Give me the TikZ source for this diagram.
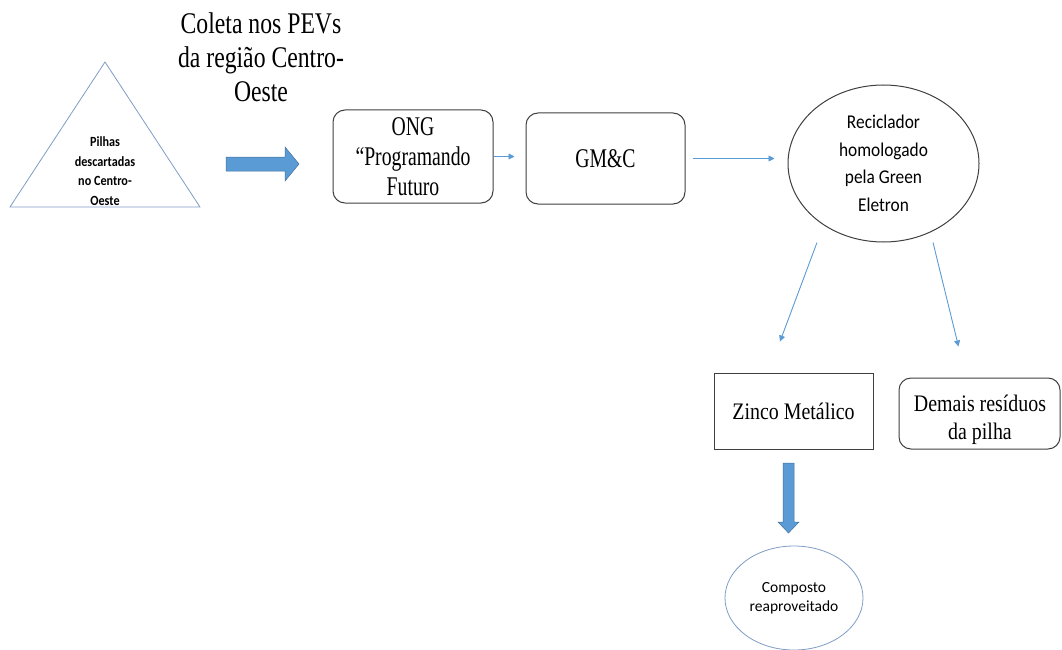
\documentclass[tikz,border=0pt]{standalone}
\usepackage{fontspec}
\setmainfont{Liberation Serif}
\newfontfamily\titlefont[FakeStretch=0.79]{Liberation Serif}
\newfontfamily\boxfont[FakeStretch=0.73]{Liberation Serif}
\newfontfamily\lowfont[FakeStretch=0.84]{Liberation Serif}
\newfontfamily\calA[FakeStretch=0.87]{Carlito}
\newfontfamily\calB[FakeStretch=0.89]{Carlito}
\newfontfamily\calC{Carlito}
\usetikzlibrary{arrows.meta,shapes.geometric,calc}
\definecolor{flowblue}{HTML}{5B9BD5}
\definecolor{flowedge}{HTML}{41719C}
\definecolor{softblue}{HTML}{7F9CC4}
\definecolor{boxline}{HTML}{3F3F3F}
\begin{document}
\begin{tikzpicture}[x=1pt,y=-1pt,
  rbox/.style={draw=boxline, line width=1pt, rounded corners=12pt, inner sep=0pt, align=center},
  sbox/.style={draw=boxline, line width=1pt, inner sep=0pt, align=center},
  oval/.style={ellipse, inner sep=0pt, align=center},
  link/.style={draw=flowblue, line width=0.9pt, -{Triangle[length=6pt,width=6pt]}},
  block/.style={fill=flowblue, draw=flowedge, line width=0.5pt}]
\useasboundingbox (0,0) rectangle (1062,650);

% source: discarded batteries
\draw[softblue, line width=0.8pt] (105,62) -- (200,207) -- (10,207) -- cycle;
\node[align=center, font=\calA\bfseries\fontsize{14}{19.5}\selectfont] (pilhas) at (105,171)
  {Pilhas\\descartadas\\no Centro-\\Oeste};

% collection caption and block arrow
\node[align=center, font=\titlefont\fontsize{30}{34}\selectfont] (coleta) at (261,57)
  {Coleta nos PEVs\\da região Centro-\\Oeste};
\draw[block] (226,157) -- (285,157) -- (285,147) -- (299,164) -- (285,181)
  -- (285,171) -- (226,171) -- cycle;

% processing chain
\node[rbox, minimum width=160pt, minimum height=93pt,
  font=\boxfont\fontsize{27}{30}\selectfont] (ong) at (413,156.5)
  {ONG\\“Programando\\Futuro};
\node[rbox, minimum width=159pt, minimum height=91pt,
  font=\boxfont\fontsize{27}{30}\selectfont] (gmc) at (605.5,158.5) {GM\&C};
\node[oval, draw=boxline, line width=1pt, minimum width=191pt, minimum height=157pt,
  font=\calB\fontsize{19.5}{27.5}\selectfont] (rec) at (883.5,163.5)
  {Reciclador\\homologado\\pela Green\\Eletron};

\draw[link, shorten >=11pt] (ong.east) -- (ong.east -| gmc.west);
\draw[link, shorten <=7pt, shorten >=13pt] (gmc.east) -- (gmc.east -| rec.west);

% outputs of the recycler
\node[sbox, minimum width=159pt, minimum height=76pt,
  font=\lowfont\fontsize{23.7}{28}\selectfont] (zinco) at (793.5,411) {Zinco Metálico};
\node[rbox, minimum width=161pt, minimum height=71pt] (demais) at (979.5,413.5) {};
\node[align=center, inner sep=0pt, font=\lowfont\fontsize{23.7}{28}\selectfont]
  (demaistxt) at (980,420) {Demais resíduos\\da pilha};

\draw[link] ([xshift=-66.5pt]rec.south) -- ([xshift=-13.5pt,yshift=31pt]zinco.north);
\draw[link] ([xshift=49.5pt]rec.south) -- ([xshift=-21pt,yshift=31pt]demais.north);

% reuse of the zinc
\draw[block] (783,463) -- (794,463) -- (794,522) -- (799,522) -- (788.5,533)
  -- (778,522) -- (783,522) -- cycle;
\node[oval, draw=softblue, line width=0.8pt, minimum width=138pt, minimum height=104pt,
  font=\calC\fontsize{15.5}{19}\selectfont] (comp) at (794,598)
  {Composto\\reaproveitado};
\end{tikzpicture}
\end{document}
